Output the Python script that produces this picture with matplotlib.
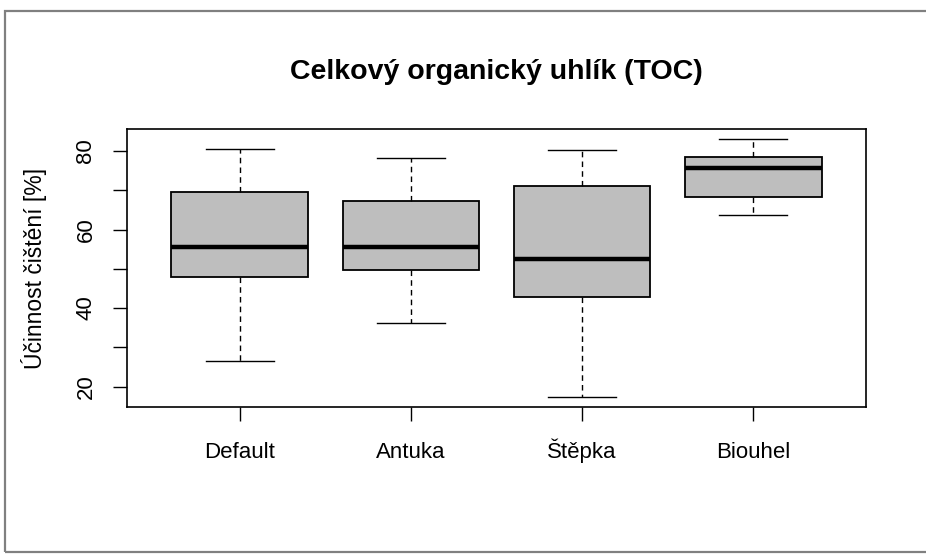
import matplotlib
matplotlib.use("Agg")
import matplotlib.pyplot as plt
from matplotlib.patches import Rectangle

plt.rcParams["font.family"] = ["Liberation Sans", "DejaVu Sans"]

groups = ["Default", "Antuka", "Štěpka", "Biouhel"]
whisker_low = [26.6, 36.3, 17.4, 63.6]
q1 = [47.8, 49.6, 42.7, 68.2]
medians = [55.5, 55.5, 52.4, 75.7]
q3 = [69.5, 67.2, 71.0, 78.4]
whisker_high = [80.5, 78.2, 80.3, 83.0]

stats = [
    {"label": g, "whislo": lo, "q1": a, "med": m, "q3": b, "whishi": hi, "fliers": []}
    for g, lo, a, m, b, hi in zip(groups, whisker_low, q1, medians, q3, whisker_high)
]

fig = plt.figure(figsize=(9.26, 5.54), dpi=100)
ax = fig.add_axes([0.1371, 0.2653, 0.7981, 0.5018])

ax.bxp(
    stats,
    positions=range(1, len(groups) + 1),
    widths=0.8,
    patch_artist=True,
    boxprops=dict(facecolor="#bebebe", edgecolor="black", linewidth=1.3),
    medianprops=dict(color="black", linewidth=3.2, solid_capstyle="butt"),
    whiskerprops=dict(color="black", linewidth=1.0, linestyle=(0, (4, 3))),
    capprops=dict(color="black", linewidth=1.0),
    capwidths=0.4,
)

ax.set_xlim(0.34, 4.66)
ax.set_ylim(14.8, 85.6)
ax.set_yticks([20, 30, 40, 50, 60, 70, 80])
ax.set_yticklabels(["20", "", "40", "", "60", "", "80"], rotation=90, va="center")
ax.set_xticks(range(1, len(groups) + 1))
ax.set_xticklabels(groups, va="baseline")
ax.tick_params(axis="both", length=10, width=1.0, labelsize=16)
ax.tick_params(axis="x", pad=26.5)
ax.tick_params(axis="y", pad=12)
for s in ax.spines.values():
    s.set_linewidth(1.2)

fig.text(34 / 926, 1 - 268 / 554, "Účinnost čištění [%]", rotation=90,
         ha="center", va="center", fontsize=16.5)
fig.text(0.5365, 1 - 72 / 554, "Celkový organický uhlík (TOC)", ha="center", va="center",
         fontsize=20.5, fontweight="bold")

fig.patches.append(Rectangle((5 / 926, 2 / 554), 1.0, 541 / 554, transform=fig.transFigure,
                             fill=False, edgecolor="#808080", linewidth=1.6))

fig.savefig("out.png", dpi=100)
